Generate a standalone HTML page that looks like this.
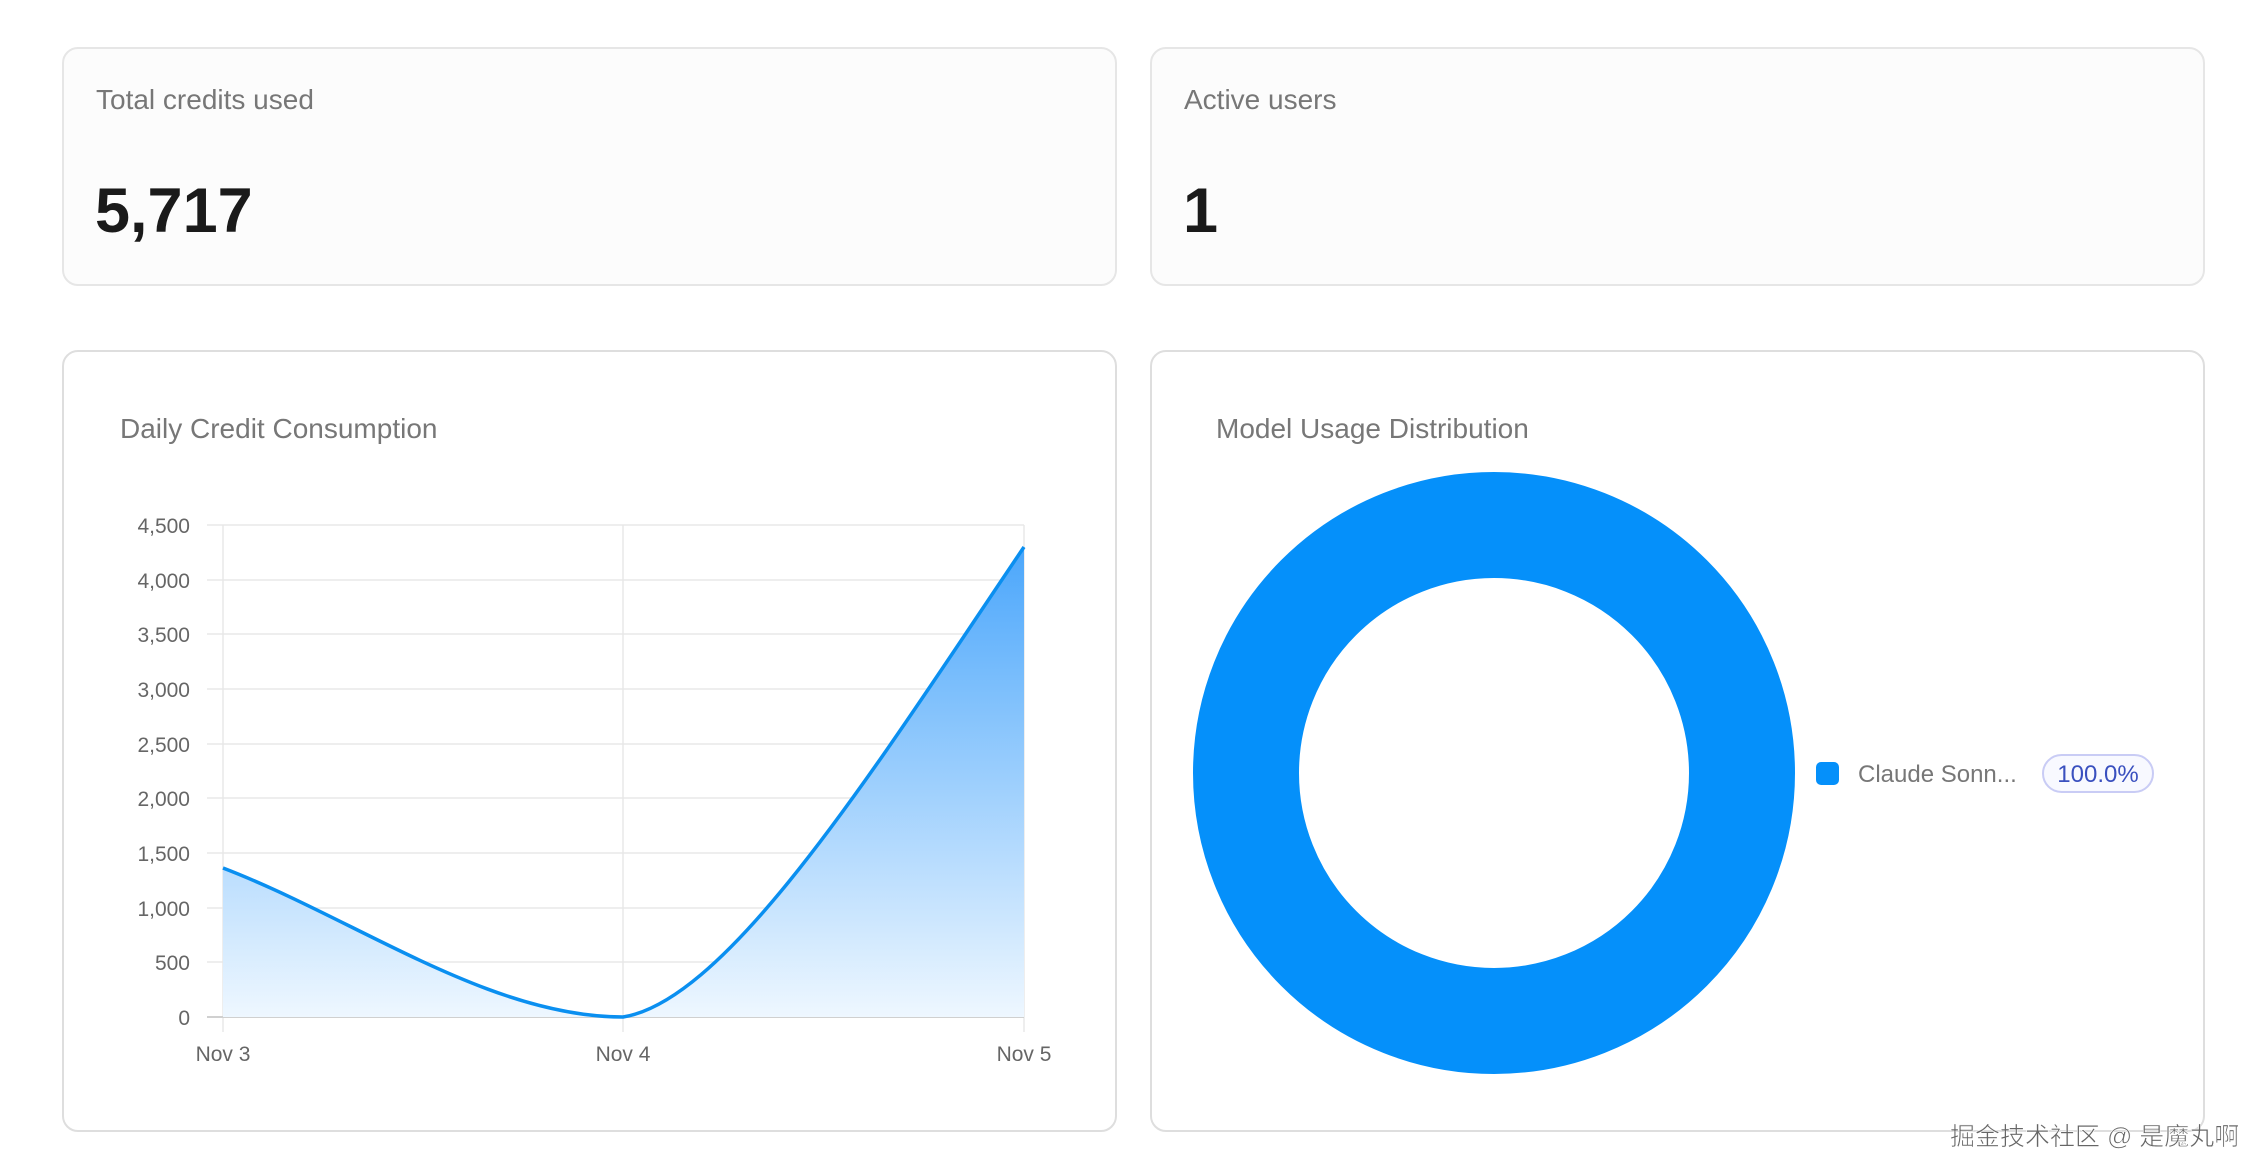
<!DOCTYPE html>
<html><head><meta charset="utf-8"><style>
html,body{margin:0;padding:0;background:#fff;width:2264px;height:1176px;overflow:hidden;font-family:"Liberation Sans",sans-serif;}
.card{position:absolute;border:2px solid #e6e6e6;border-radius:16px;box-sizing:border-box;}
.top{background:#fcfcfc;top:47px;height:239px;}
.bot{background:#fff;top:350px;height:782px;border-color:#dedede;}
.lbl{position:absolute;font-size:28px;color:#777;}
.big{position:absolute;font-size:63px;font-weight:bold;color:#1a1a1a;}
</style></head><body>
<div class="card top" style="left:62px;width:1055px"></div>
<div class="card top" style="left:1150px;width:1055px"></div>
<div class="card bot" style="left:62px;width:1055px"></div>
<div class="card bot" style="left:1150px;width:1055px"></div>
<div class="lbl" style="left:96px;top:84px">Total credits used</div>
<div class="big" style="left:95px;top:175px">5,717</div>
<div class="lbl" style="left:1184px;top:84px">Active users</div>
<div class="big" style="left:1183px;top:175px">1</div>
<div class="lbl" style="left:120px;top:413px">Daily Credit Consumption</div>
<div class="lbl" style="left:1216px;top:413px">Model Usage Distribution</div>
<svg width="2264" height="1176" style="position:absolute;left:0;top:0">
<defs><linearGradient id="g" x1="0" y1="544" x2="0" y2="1017" gradientUnits="userSpaceOnUse">
<stop offset="0" stop-color="#4aa6fb"/><stop offset="1" stop-color="#eef7ff"/></linearGradient></defs>
<g stroke="#e8e8e8" stroke-width="1.5">
<line x1="207" x2="1024" y1="525" y2="525"/><line x1="207" x2="1024" y1="580" y2="580"/>
<line x1="207" x2="1024" y1="634" y2="634"/><line x1="207" x2="1024" y1="689" y2="689"/>
<line x1="207" x2="1024" y1="744" y2="744"/><line x1="207" x2="1024" y1="798" y2="798"/>
<line x1="207" x2="1024" y1="853" y2="853"/><line x1="207" x2="1024" y1="908" y2="908"/>
<line x1="207" x2="1024" y1="962" y2="962"/>
<line x1="223" x2="223" y1="525" y2="1032"/><line x1="623" x2="623" y1="525" y2="1032"/><line x1="1024" x2="1024" y1="525" y2="1032"/>
</g>
<line x1="207" x2="1024" y1="1017" y2="1017" stroke="#d0d0d0" stroke-width="2"/>
<path d="M223,868 C356,919 489,1017 623,1017 C730,1000 880,760 1024,547 L1024,1017 L223,1017 Z" fill="url(#g)"/>
<path d="M223,868 C356,919 489,1017 623,1017 C730,1000 880,760 1024,547" fill="none" stroke="#0a8ff0" stroke-width="3.5"/>
<g font-size="21" fill="#666" text-anchor="end" font-family="Liberation Sans,sans-serif">
<text x="190" y="533">4,500</text><text x="190" y="588">4,000</text><text x="190" y="642">3,500</text>
<text x="190" y="697">3,000</text><text x="190" y="752">2,500</text><text x="190" y="806">2,000</text>
<text x="190" y="861">1,500</text><text x="190" y="916">1,000</text><text x="190" y="970">500</text><text x="190" y="1025">0</text>
</g>
<g font-size="21" fill="#666" text-anchor="middle" font-family="Liberation Sans,sans-serif">
<text x="223" y="1061">Nov 3</text><text x="623" y="1061">Nov 4</text><text x="1024" y="1061">Nov 5</text>
</g>
<circle cx="1494" cy="773" r="248" fill="none" stroke="#0590fa" stroke-width="106"/>
<rect x="1816" y="762" width="23" height="23" rx="5" fill="#0590fa"/>
<text x="1858" y="782" font-size="24" fill="#777" font-family="Liberation Sans,sans-serif">Claude Sonn...</text>
<rect x="2043" y="755" width="110" height="37" rx="18.5" fill="#f8f9ff" stroke="#c9ccf5" stroke-width="2"/>
<text x="2098" y="782" font-size="24" fill="#3a50bf" text-anchor="middle" font-family="Liberation Sans,sans-serif">100.0%</text>
<text x="1950" y="1145" font-size="25" fill="#666" stroke="#fff" stroke-width="0.6" font-family="Liberation Sans,Noto Sans CJK SC,sans-serif">掘金技术社区 @ 是魔丸啊</text>
</svg>
</body></html>
